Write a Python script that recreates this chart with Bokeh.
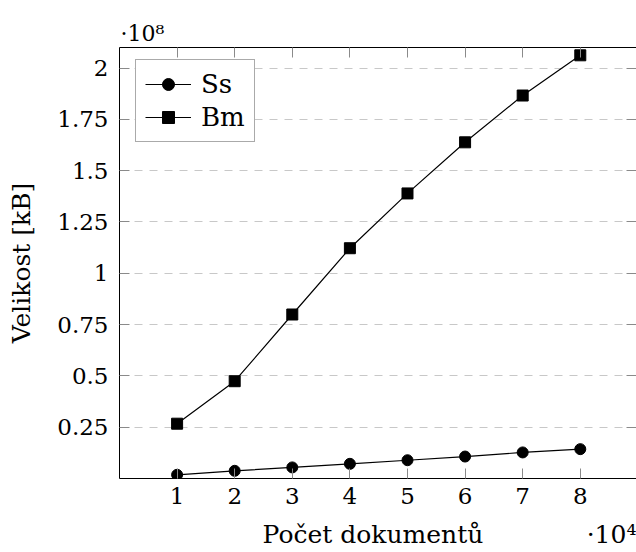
from bokeh.plotting import figure
from bokeh.models import (FixedTicker, LinearAxis, Range1d, Legend, Title,
                          LegendItem, CustomJSTickFormatter)
from bokeh.embed import file_html
from bokeh.resources import INLINE

# Number of documents and index size in kB for the two methods
docs = [10000, 20000, 30000, 40000, 50000, 60000, 70000, 80000]
ss_size = [1.8e6, 3.75e6, 5.4e6, 7.15e6, 8.9e6, 10.7e6, 12.7e6, 14.3e6]
bm_size = [26.7e6, 47.4e6, 79.9e6, 112.2e6, 138.9e6, 163.8e6, 186.6e6, 206.2e6]

x_ticks = [1, 2, 3, 4, 5, 6, 7, 8]
y_ticks = [0.25, 0.5, 0.75, 1.0, 1.25, 1.5, 1.75, 2.0]
y_tick_labels = ["0.25", "0.5", "0.75", "1", "1.25", "1.5", "1.75", "2"]

x_scale = 1e4
y_scale = 1e8

FONT = "DejaVu Serif"
TEXT = "black"
TICK_COLOR = "#8a8a8a"
NB = "\u00a0"

xs = [d / x_scale for d in docs]
ss = [v / y_scale for v in ss_size]
bm = [v / y_scale for v in bm_size]

p = figure(width=636, height=552, output_backend="svg", toolbar_location=None,
           x_range=Range1d(0, 8.976), y_range=Range1d(0, 2.1),
           min_border_left=119, min_border_right=0, min_border_top=47,
           min_border_bottom=74)
p.outline_line_color = None
p.background_fill_color = "white"
p.border_fill_color = "white"

# grid: dashed horizontal lines only
p.xgrid.grid_line_color = None
p.ygrid.ticker = FixedTicker(ticks=y_ticks)
p.ygrid.grid_line_color = "#c8c8c8"
p.ygrid.grid_line_dash = "8 7"
p.ygrid.grid_line_width = 1

# bottom axis; the scale factor sits at the right end of the title row
xa = p.xaxis[0]
xa.ticker = FixedTicker(ticks=x_ticks)
xa.axis_label = NB * 18 + "Počet dokumentů" + NB * 13 + "·10⁴"
xa.axis_label_text_font = FONT
xa.axis_label_text_font_size = "25px"
xa.axis_label_text_font_style = "normal"
xa.axis_label_text_color = TEXT
xa.axis_label_standoff = 13
xa.major_label_text_font = FONT
xa.major_label_text_font_size = "23px"
xa.major_label_text_color = TEXT
xa.major_label_standoff = 9
xa.major_tick_in = 10
xa.major_tick_out = 0
xa.minor_tick_line_color = None
xa.major_tick_line_color = TICK_COLOR
xa.axis_line_color = "black"

# left axis
ya = p.yaxis[0]
ya.ticker = FixedTicker(ticks=y_ticks)
ya.major_label_overrides = dict(zip(y_ticks, y_tick_labels))
ya.axis_label = "Velikost [kB]"
ya.axis_label_text_font = FONT
ya.axis_label_text_font_size = "25px"
ya.axis_label_text_font_style = "normal"
ya.axis_label_text_color = TEXT
ya.axis_label_standoff = 18
ya.major_label_text_font = FONT
ya.major_label_text_font_size = "23px"
ya.major_label_text_color = TEXT
ya.major_label_standoff = 11
ya.major_tick_in = 10
ya.major_tick_out = 0
ya.minor_tick_line_color = None
ya.major_tick_line_color = TICK_COLOR
ya.axis_line_color = "black"

# top and right axes: inward ticks only, no labels
blank = CustomJSTickFormatter(code="return ''")
top = LinearAxis(ticker=FixedTicker(ticks=x_ticks), formatter=blank,
                 major_label_text_color=None, major_label_standoff=0,
                 major_tick_in=10, major_tick_out=0,
                 minor_tick_line_color=None, major_tick_line_color=TICK_COLOR,
                 axis_line_color="black")
right = LinearAxis(ticker=FixedTicker(ticks=y_ticks), formatter=blank,
                   major_label_text_color=None, major_label_standoff=0,
                   major_tick_in=10, major_tick_out=0,
                   minor_tick_line_color=None, major_tick_line_color=TICK_COLOR,
                   axis_line_color=None)
p.add_layout(top, "above")
p.add_layout(right, "right")

# scale factor of the y axis, above its top end
p.add_layout(Title(text="·10⁸", align="left", offset=1, standoff=3,
                   text_font=FONT, text_font_size="22px", text_color=TEXT,
                   text_font_style="normal"), "above")

# series
ss_line = p.line(xs, ss, line_color="black", line_width=1.2)
ss_mark = p.scatter(xs, ss, marker="circle", size=11, fill_color="black",
                    line_color="black")
bm_line = p.line(xs, bm, line_color="black", line_width=1.2)
bm_mark = p.scatter(xs, bm, marker="square", size=11, fill_color="black",
                    line_color="black")

legend = Legend(items=[LegendItem(label="Ss", renderers=[ss_line, ss_mark]),
                       LegendItem(label="Bm", renderers=[bm_line, bm_mark])],
                location=(16, 336), orientation="vertical")
legend.label_text_font = FONT
legend.label_text_font_size = "26px"
legend.label_text_color = TEXT
legend.glyph_width = 46
legend.glyph_height = 30
legend.label_standoff = 10
legend.padding = 9
legend.spacing = 3
legend.margin = 0
legend.border_line_color = "#555555"
legend.border_line_width = 1
legend.background_fill_alpha = 1
p.add_layout(legend, "center")

open("out.html", "w").write(file_html(p, INLINE))
